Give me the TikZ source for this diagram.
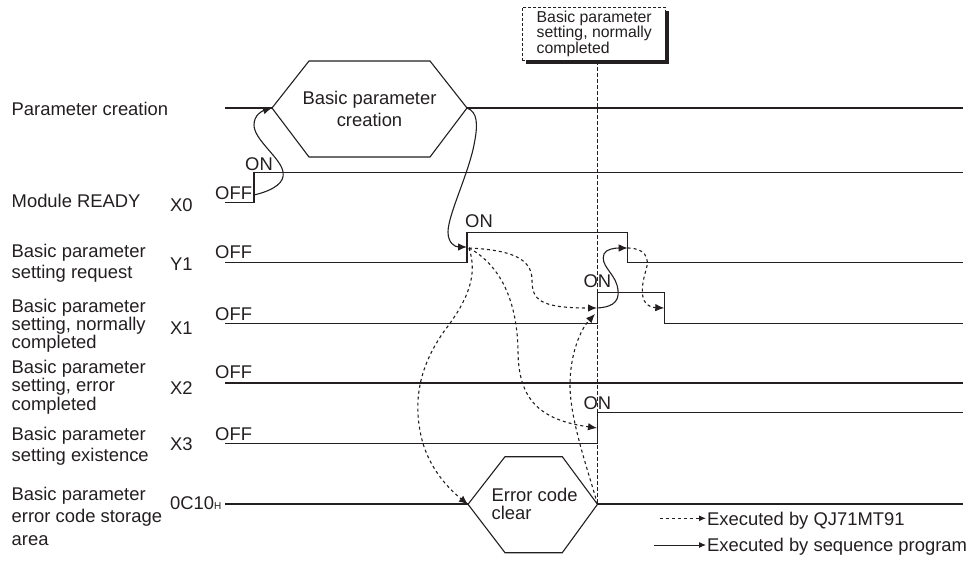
\documentclass[tikz,border=0pt]{standalone}
\usepackage{fontspec}
\setmainfont{Liberation Sans}
\usetikzlibrary{arrows.meta}
\definecolor{ink}{RGB}{35,31,32}
\begin{document}
\begin{tikzpicture}[x=1pt,y=-1pt,
  sig/.style={line width=1.2pt, draw=ink},
  sigthick/.style={line width=1.8pt, draw=ink},
  hexa/.style={line width=1.1pt, draw=ink, line join=miter},
  lbl/.style={anchor=base west, inner sep=0pt, text=ink, align=left, font=\fontsize{18.4}{21}\selectfont},
  seqarrow/.style={draw=ink, line width=1.1pt, -{Latex[length=9pt,width=7.5pt]}},
  unitarrow/.style={draw=ink, line width=1.1pt, dash pattern=on 3pt off 3pt, -{Latex[length=9pt,width=7.5pt]}},
  legarrow/.style={draw=ink, line width=1pt, -{Latex[length=7pt,width=6pt]}},
  vdash/.style={draw=ink, line width=0.8pt, dash pattern=on 4pt off 2pt}]
\useasboundingbox (0,0) rectangle (975,569);

% ---------- named points ----------
\coordinate (pcL) at (272,108);
\coordinate (pcR) at (467,108);
\coordinate (ecL) at (468,504.3);
\coordinate (ecR) at (597.5,504.3);
\coordinate (x0on) at (254,195);
\coordinate (y1on) at (467,247);
\coordinate (y1src) at (469,248);
\coordinate (x1on) at (597,308);
\coordinate (x1on2) at (595,314);
\coordinate (x3on) at (597,428);
\coordinate (y1off) at (627.7,248);
\coordinate (x1off) at (664.3,308);

% ---------- callout box ----------
\fill[ink] (526,11) rectangle (669,64.5);
\node[draw=ink, line width=0.9pt, dash pattern=on 3pt off 2pt, fill=white, minimum width=143pt, minimum height=53pt, inner sep=0pt, anchor=north west] (box) at (522,7) {};
\node[lbl, font=\fontsize{15.8}{15.5}\selectfont] (boxtxt) at (536.5,53.3) {Basic parameter\\setting, normally\\completed};
\draw[vdash] (box.south -| ecR) -- (ecR);

% ---------- left labels (anchor = baseline of last line) ----------
\node[lbl] (l0) at (11.5,115.5) {Parameter creation};
\node[lbl] (l1) at (11.5,207.5) {Module READY};
\node[lbl] (d1) at (170,211.5) {X0};
\node[lbl] (l2) at (11.5,278.5) {Basic parameter\\setting request};
\node[lbl] (d2) at (170,271) {Y1};
\node[lbl, font=\fontsize{18.4}{16}\selectfont] (l3) at (11.5,348.5) {Basic parameter\\setting, normally\\completed};
\node[lbl] (d3) at (170,335) {X1};
\node[lbl, font=\fontsize{18.4}{16}\selectfont] (l4) at (11.5,410) {Basic parameter\\setting, error\\completed};
\node[lbl] (d4) at (170,394.3) {X2};
\node[lbl] (l5) at (11.5,461.7) {Basic parameter\\setting existence};
\node[lbl] (d5) at (170,450) {X3};
\node[lbl, font=\fontsize{18.4}{22.5}\selectfont] (l6) at (11.5,545) {Basic parameter\\error code storage\\area};
\node[lbl] (d6) at (170,509) {0C10{\fontsize{10}{10}\selectfont H}};

% ---------- ON / OFF ----------
\node[lbl] (off0) at (215,200) {OFF};
\node[lbl] (on0) at (245,170.5) {ON};
\node[lbl] (off1) at (215,259) {OFF};
\node[lbl] (on1) at (465,227.3) {ON};
\node[lbl] (off2) at (215,320.7) {OFF};
\node[lbl] (on2) at (583.3,287.3) {ON};
\node[lbl] (off3) at (215,378.3) {OFF};
\node[lbl] (off4) at (215,440) {OFF};
\node[lbl] (on4) at (583.3,409.3) {ON};

% ---------- Parameter creation ----------
\draw[sigthick] (225,108) -- (pcL);
\draw[sigthick] (pcR) -- (963,108);
\draw[hexa] (pcL) -- (309,61) -- (430,61) -- (pcR) -- (430,157) -- (309,157) -- cycle;
\node[lbl, anchor=base, align=center, font=\fontsize{18.4}{21.7}\selectfont] (pctxt) at (369.5,126.7) {Basic parameter\\creation};

% ---------- signals ----------
\draw[sig] (225,202.7) -- (254,202.7) -- (254,172.7) -- (963,172.7);
\draw[sig] (225,262.3) -- (467,262.3) -- (467,232.3) -- (627.7,232.3) -- (627.7,262.3) -- (963,262.3);
\draw[sig] (225,323.3) -- (597.5,323.3) -- (597.5,292.7) -- (664.3,292.7) -- (664.3,323.3) -- (963,323.3);
\draw[sigthick] (225,382.7) -- (963,382.7);
\draw[sig] (225,443.3) -- (597.5,443.3) -- (597.5,412.3) -- (963,412.3);

% ---------- error code storage ----------
\draw[sigthick] (225,504.3) -- (ecL);
\draw[sigthick] (ecR) -- (963,504.3);
\draw[hexa] (ecL) -- (505,456.7) -- (562.3,456.7) -- (ecR) -- (562.3,552.7) -- (505,552.7) -- cycle;
\node[lbl, font=\fontsize{18.4}{17.5}\selectfont] (ectxt) at (491.5,519) {Error code\\clear};

% ---------- sequence program arrows ----------
\draw[seqarrow] (x0on) .. controls (275,190) and (285,182) .. (283,172)
  .. controls (281,158) and (254,140) .. (254,125)
  .. controls (254,115) and (262,111) .. (pcL);
\draw[seqarrow] (pcR) .. controls (478,112) and (478,125) .. (474,145)
  .. controls (468,175) and (448,215) .. (448,232)
  .. controls (448,243) and (455,247) .. (y1on);
\draw[seqarrow] (x1on) .. controls (615,307) and (621,300) .. (617,285)
  .. controls (613,272) and (600,265) .. (604,254)
  .. controls (606,249) and (615,248) .. (y1off);

% ---------- module arrows ----------
\draw[unitarrow] (y1src) .. controls (510,250) and (532,258) .. (532,280)
  .. controls (532,300) and (540,308) .. (x1on);
\draw[unitarrow] (y1src) .. controls (500,265) and (517,300) .. (518,350)
  .. controls (518,400) and (540,420) .. (x3on);
\draw[unitarrow] (y1src) .. controls (478,275) and (468,300) .. (445,330)
  .. controls (420,365) and (412,400) .. (422,440)
  .. controls (430,470) and (450,490) .. (ecL);
\draw[unitarrow] (ecR) .. controls (588,470) and (570,420) .. (570,385)
  .. controls (570,355) and (580,330) .. (x1on2);
\draw[unitarrow] (y1off) .. controls (645,248) and (650,258) .. (646,270)
  .. controls (640,290) and (640,307) .. (x1off);

% ---------- legend ----------
\coordinate (lg1s) at (660,518.3);
\coordinate (lg1e) at (706,518.3);
\coordinate (lg2s) at (654,545);
\coordinate (lg2e) at (706,545);
\draw[legarrow, dash pattern=on 3pt off 3pt] (lg1s) -- (lg1e);
\node[lbl] (lg1) at (707,525) {Executed by QJ71MT91};
\draw[legarrow] (lg2s) -- (lg2e);
\node[lbl] (lg2) at (707,551) {Executed by sequence program};
\end{tikzpicture}
\end{document}
